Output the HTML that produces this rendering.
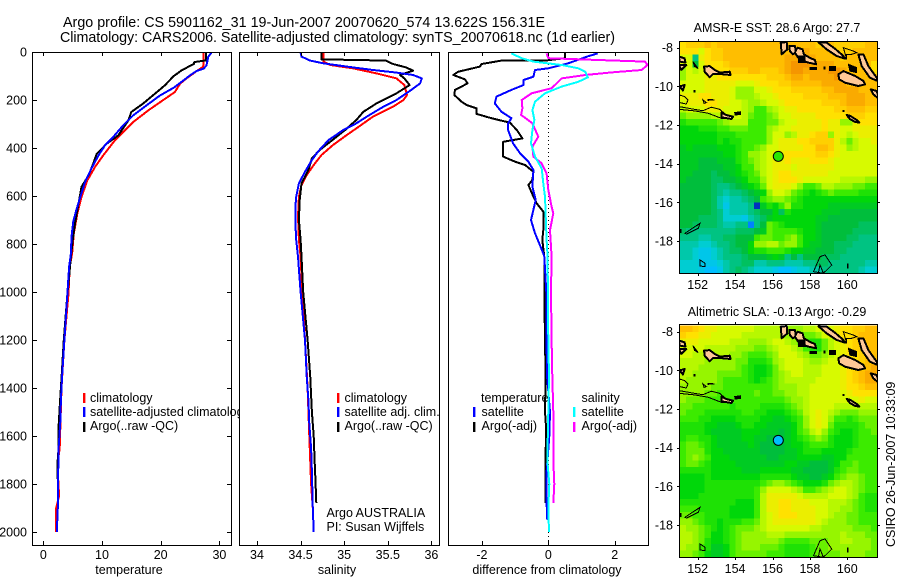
<!DOCTYPE html>
<html>
<head>
<meta charset="utf-8">
<title>Argo profile</title>
<style>
html,body{margin:0;padding:0;background:#fff;width:900px;height:580px;overflow:hidden}
svg{display:block}
text{font-family:"Liberation Sans",Arial,sans-serif;font-size:12.5px;fill:#000}
.title{font-size:14.3px}
</style>
</head>
<body>
<svg id="chart" width="900" height="580" viewBox="0 0 900 580" xmlns="http://www.w3.org/2000/svg">
<defs>
<clipPath id="clip-p1"><rect x="32" y="52" width="207" height="493"/></clipPath>
<clipPath id="clip-p1-lines"><rect x="32" y="52" width="199" height="493"/></clipPath>
<clipPath id="clip-p2"><rect x="239" y="52" width="200" height="493"/></clipPath>
<clipPath id="clip-p3"><rect x="448" y="52" width="200" height="493"/></clipPath>
<clipPath id="clip-m1"><rect x="680" y="42" width="197" height="231"/></clipPath>
<clipPath id="clip-m2"><rect x="680" y="325" width="197" height="232"/></clipPath>
</defs>
<rect x="0" y="0" width="900" height="580" fill="#fff"/>
<text class="title" x="63" y="27" textLength="482">Argo profile: CS 5901162_31 19-Jun-2007 20070620_574 13.622S 156.31E</text>
<text class="title" x="60" y="42" textLength="555">Climatology: CARS2006. Satellite-adjusted climatology: synTS_20070618.nc (1d earlier)</text>
<g id="plots"></g>

<g clip-path="url(#clip-p1)">
<rect x="83" y="393" width="2.4" height="10" fill="#f00"/>
<rect x="83" y="407" width="2.4" height="10" fill="#00f"/>
<rect x="83" y="422" width="2.4" height="10" fill="#000"/>
<text x="90" y="402">climatology</text>
<text x="90" y="416">satellite-adjusted climatology</text>
<text x="90" y="430">Argo(..raw -QC)</text>
</g>
<g>
<rect x="337" y="393" width="2.4" height="10" fill="#f00"/>
<rect x="337" y="407" width="2.4" height="10" fill="#00f"/>
<rect x="337" y="422" width="2.4" height="10" fill="#000"/>
<text x="344.5" y="402">climatology</text>
<text x="344.5" y="416">satellite adj. clim.</text>
<text x="344.5" y="430">Argo(..raw -QC)</text>
<text x="326.5" y="517">Argo AUSTRALIA</text>
<text x="326.5" y="531">PI: Susan Wijffels</text>
</g>
<g>
<text x="481" y="402">temperature</text>
<rect x="473" y="407" width="2.4" height="10" fill="#00f"/>
<rect x="473" y="422" width="2.4" height="10" fill="#000"/>
<text x="481.5" y="416">satellite</text>
<text x="481.5" y="430">Argo(-adj)</text>
<text x="581.5" y="402">salinity</text>
<rect x="573" y="407" width="2.4" height="10" fill="#0ff"/>
<rect x="573" y="422" width="2.4" height="10" fill="#f0f"/>
<text x="581.5" y="416">satellite</text>
<text x="581.5" y="430">Argo(-adj)</text>
</g>
<text x="129" y="574" text-anchor="middle">temperature</text>
<text x="337" y="574" text-anchor="middle">salinity</text>
<text x="547" y="574" text-anchor="middle">difference from climatology</text>
<text x="777" y="32" text-anchor="middle">AMSR-E SST: 28.6 Argo: 27.7</text>
<text x="777" y="316" text-anchor="middle">Altimetric SLA: -0.13 Argo: -0.29</text>
<text transform="translate(895,547) rotate(-90)">CSIRO 26-Jun-2007 10:33:09</text>
</svg>

<script>
// ---------- depth axis ----------
const depthTicks = [0,200,400,600,800,1000,1200,1400,1600,1800,2000];

// ---------- temperature panel ----------
const tempTicks = [0,10,20,30];
const tempClimDepth = [0,50,62,80,110,132,167,201,243,292,368,431,479,535,604,674,757,840,896,1007,1200,1400,1650,1720,1850,1900,2000];
const tempClimValue = [27.3,27.3,27.2,26.1,24.4,23.3,22.4,20.4,17.9,15.3,12.2,10.2,8.8,7.5,6.5,5.8,5.2,4.9,4.5,4.3,3.6,3.1,2.8,2.4,2.7,2.2,2.2];
const tempArgoDepth = [0,35,42,49,76,101,139,174,215,250,285,347,382,424,472,514,562,632,715,785,854,937,1007,1200,1400,1480,1560,1650,1720,1780];
const tempArgoValue = [27.7,27.7,25.7,25.7,23.6,22.2,20.7,19,17,15,14.5,12.8,10.8,9.1,8.4,7.7,6.5,6,5.4,5,4.7,4.4,4.1,3.5,3,2.8,2.6,2.6,2.4,2.4];
const tempSatDepth = [0,21,56,69,79,97,118,149,181,222,264,306,354,389,431,486,542,604,660,708,771,840,896,1007,1200,1350,1450,1540,1650,1800,1880,2000];
const tempSatValue = [28.7,28.1,27.8,27.3,26.1,25,23.9,22.2,19.9,17.6,15.3,13.6,11.9,10.5,9.4,8.2,7.1,6.3,5.6,5.1,4.8,4.7,4.4,4.1,3.6,3.2,3,2.9,2.6,2.5,2.5,2.3];

// ---------- salinity panel ----------
const salTicks = [34,34.5,35,35.5,36];
const salClimDepth = [3,40,54,68,89,110,138,179,200,228,269,308,346,388,429,471,513,554,603,686,783,853,1000,1200,1400,1600,1800,1900,2000];
const salClimValue = [34.76,34.76,34.84,35.10,35.37,35.60,35.69,35.72,35.68,35.56,35.33,35.18,35.03,34.87,34.74,34.65,34.57,34.51,34.48,34.47,34.48,34.50,34.52,34.55,34.58,34.6,34.62,34.64,34.65];
const salArgoDepth = [3,31,33,36,50,64,78,96,110,138,172,214,249,283,325,374,408,443,492,547,617,700,783,853,1000,1200,1350,1500,1600,1700,1780,1880];
const salArgoValue = [34.74,34.74,35.10,35.48,35.56,35.71,35.79,35.64,35.69,35.75,35.60,35.37,35.22,35.14,35.01,34.84,34.72,34.63,34.59,34.51,34.49,34.48,34.50,34.51,34.53,34.58,34.61,34.63,34.65,34.66,34.67,34.68];
const salSatDepth = [3,19,36,47,61,75,86,96,110,131,158,200,228,269,297,325,367,415,450,499,547,603,644,714,783,853,1000,1200,1350,1450,1550,1650,1750,1900,2000];
const salSatValue = [34.50,34.51,34.61,34.76,35.03,35.33,35.60,35.79,35.89,35.87,35.77,35.6,35.45,35.26,35.14,34.99,34.82,34.70,34.63,34.55,34.48,34.45,34.44,34.44,34.45,34.47,34.5,34.55,34.57,34.59,34.6,34.62,34.63,34.64,34.65];

// ---------- difference panel ----------
const diffTicks = [-2,0,2];
const diffTempArgoDepth = [3,26,36,36,50,61,82,96,114,131,158,179,207,221,235,258,272,283,294,325,360,374,436,457,471,499,533,554,603,631,665,742,783,853,1000,1200,1350,1500,1560,1700,1880];
const diffTempArgoValue = [0.50,0.50,-0.10,-1.41,-2.01,-2.06,-2.71,-2.86,-2.51,-2.43,-2.81,-2.83,-2.61,-2.46,-2.16,-2.16,-1.81,-1.51,-1.16,-0.95,-0.78,-1.36,-1.36,-1.0,-0.70,-0.45,-0.48,-0.60,-0.45,-0.35,-0.15,-0.15,-0.18,-0.12,-0.12,-0.1,-0.08,-0.1,-0.07,-0.08,-0.08];
const diffTempSatDepth = [6,17,47,68,75,103,117,138,158,186,214,249,276,297,325,381,422,457,492,561,617,658,700,755,839,853,1000,1200,1350,1500,1600,1750,1850,1950];
const diffTempSatValue = [1.49,1.21,0.60,0,-0.40,-0.45,-0.75,-0.75,-1.11,-1.56,-1.61,-1.41,-1.11,-1.21,-1.21,-1.06,-0.85,-0.60,-0.45,-0.48,-0.38,-0.45,-0.52,-0.40,-0.15,-0.12,-0.06,-0.05,-0.04,0.05,0.03,-0.05,-0.06,-0.03];
const diffSalSatDepth = [6,26,40,54,68,82,106,124,144,172,207,242,283,325,381,436,485,547,603,672,783,853,1200,1350,1500,1700,1800,1900,2000];
const diffSalSatValue = [-1.11,-0.80,-0.45,0.40,0.90,1.11,1.19,0.90,0.40,-0.10,-0.40,-0.48,-0.42,-0.48,-0.52,-0.40,-0.20,-0.15,-0.10,-0.08,-0.05,-0.02,0,0.02,0,-0.03,0.03,0,0.02];
const diffSalArgoDepth = [6,26,33,40,54,75,85,96,110,131,151,172,200,235,262,297,353,394,436,464,506,575,644,672,742,853,1000,1200,1350,1500,1700,1800,1880];
const diffSalArgoValue = [-0.05,0,1.41,2.91,2.99,2.81,1.91,1.11,0.40,0.25,0.10,-0.50,-0.80,-0.78,-0.82,-0.48,-0.30,-0.48,-0.45,-0.20,-0.05,0,0.10,0.15,0.05,0.10,0.08,0.1,0.12,0.15,0.15,0.18,0.15];

// ---------- maps ----------
const lonTicks = [152,154,156,158,160];
const latTicks = [-8,-10,-12,-14,-16,-18];
const argoLon = [156.31];
const argoLat = [-13.62];
const argoSstLevel = [4.7];
const argoSlaLevel = [0];
const sstLevels = [
[8,8.5,8.5,8.5,9,8.5,9,9,9,9,9,9,9,9,9,9,9,9,9,9,9,9,8.5,9,9,8.5,8.5,8.5,8.5,8.5,9,9],
[8,8,8,7,8,8.5,8.5,9,9,9,9,9,9,9,9,9,9,9,9,9,9.5,9,9,9,9,8.5,8.5,8.5,9,9,9,9],
[7,7,2,7.5,8,8.5,8.5,9,9,9,9,9,9,9,9,9,9,9.5,9.5,9.5,9.5,9.5,9,9,9,9,8.5,9,9,9,9,9],
[7,7,3,7,8,8,8,8.5,9,9,9,9,9,9,9,9,9,9.5,10,10,10,9.5,9.5,9.5,9.5,9,9,9,9,9,9,8],
[6,7,6.5,7,7.5,8,8,8,8.5,8.5,8.5,9,9,8.5,8.5,8.5,9,9.5,10,10,9.5,9.5,9.5,9.5,10,10,9.5,9,9,9,8.5,8],
[6,7,7,7,7.5,7.5,8,8,8,8,8,8,8,8,8.5,8.5,8.5,9,9.5,9.5,9,9.5,9.5,9.5,9.5,10,9.5,9,9,9,9,9],
[7,7,7,7,7.5,7.5,7.5,7.5,7.5,7,7,7,7.5,8,8,8,8.5,8.5,9,9,9,9,9,9.5,9.5,9.5,9.5,9,9,9,9,9],
[7,7,7,7,7.5,7.5,7.5,7.5,7,6,6,6,7,7,7.5,8,8,8,8.5,8.5,8.5,8.5,8.5,9,9,9.5,9.5,9.5,9.5,9,9,9],
[7.5,7.5,7.5,8,8,7.5,7.5,7.5,7,6,6,6,6.5,7,7,7.5,8,8,8,8,8.5,8.5,8.5,8.5,9,9,9,9.5,9.5,9.5,9,9],
[7,7.5,7.5,7.5,8,8,7.5,7.5,7,7,6.5,6,6,6.5,7,7,7.5,8,8,8,8,8,8,8.5,8.5,8.5,9,9.5,9.5,9.5,9,9],
[6.5,7,7,7,7.5,7.5,7.5,7,7,7,6.5,6,5,5,6,6.5,7,7.5,7.5,8,8,8,8,8,8,8.5,8.5,9,9,9,8.5,8.5],
[5.5,6,6,6,6,6.5,6.5,7,7,7,6.5,5.5,5,5,5.5,6,7,7,7.5,7.5,7.5,7.5,8,8,8,8,8,8.5,8.5,8.5,8,8],
[4.5,5,5,5,5,5,5.5,6,6.5,6.5,6.5,5,5,5,5.5,5.5,6.5,7,7,7.5,7.5,7.5,7.5,8,7.5,7.5,6,6,7.5,8,8,8],
[4,4,4,4.5,4.5,4.5,5,5,5.5,5.5,5.5,5,5,5,6,6.5,7,7,7.5,7.5,7.5,7.5,7.5,8,7.5,7.5,7,7,7.5,7.5,7.5,7.5],
[4,4,4,4,4,4,4.5,4.5,4.5,5,5,5,5,5,6,7,7,6,6.5,7.5,7.5,8,8.5,8.5,6,7.5,7,6.5,7,7.5,7.5,7.5],
[4,4,4,4,4,4,4.5,4,4.5,4.5,5,5,5,5,6,7,7.5,7.5,7.5,8,8,8.5,8.5,8.5,8.5,7.5,6.5,5.5,6.5,7,7,7.5],
[3.5,4,3.5,3.5,3.5,3.5,4,4,4,4.5,5,5,5.5,6,7,7,7.5,7.5,7.5,7.5,8,8,9,9,8.5,7.5,7,6,6.5,7,7,7],
[3.5,3.5,3.5,3.5,3.5,3.5,3.5,4,4,4.5,5,6,6,6.5,7,7.5,7.5,8,8,8,8,8,8.5,8.5,8,7.5,7,7,7,7,7,7],
[3.5,3.5,3.5,3,3,3,3.5,3.5,3.5,4.5,5,5.5,6,6.5,7,7.5,7.5,8,7.5,7.5,7.5,8,8,8,7.5,7,7,7,7,7,7,7],
[3.5,3.5,3.5,3,3,3,3,3.5,3.5,4,5,5,6,6.5,7,7.5,7.5,7.5,7,7.5,7.5,7.5,7.5,7.5,7.5,7,7,7,7,7,7,7],
[3.5,3.5,3,3,3,2.5,3,3,3.5,4,4.5,5,5.5,6.5,7,7.5,8,8,7.5,7.5,7.5,7.5,7.5,7.5,7,7,7,7,7,7,7,7],
[3.5,3,3,3,3,2.5,2.5,3,3,3.5,4,5,5,6,7,7.5,8,8,8,7.5,7,7,7,7,7,7,6.5,6.5,6.5,6.5,6,6],
[3,3,3,3,3,2.5,2,2,2.5,3,3.5,4,4.5,5.5,7,7.5,7.5,7.5,7,6,5,5,5.5,6.5,6.5,6,6,6,5.5,5.5,5,5],
[3,3,3,3,3,2.5,2,1.5,2,2,2.5,3,3.5,4,6,7,7,6.5,5.5,5,4.5,4,4.5,5,5.5,5,5,5,5,4.5,4.5,4.5],
[3,3,3,3,3,2.5,1.5,1,1.5,1.5,2,2.5,3,5,5.5,6,6,5.5,5,4.5,4,4,4,4,4,4,4,4,4,4,4,4],
[3,3,3,3,3,2.5,1.5,0.5,1.5,1.5,1.5,2,-2,3.5,4.5,4,5,6,4.5,4.5,4,4,4,4,3.5,3.5,3.5,3.5,3.5,3.5,3.5,3.5],
[3,3,3,3,3,2.5,2,1,1.5,1.5,1.5,2,2.5,3,3,4,2.5,4.5,4,4,4,4,4,3.5,3.5,3.5,3,3,3,3,3,3],
[3,3,3,2.5,2.5,2.5,2,1,1,1,0.5,1.5,2,2.5,3.5,4,4,4,4,4,4,4,3.5,3.5,3,3,3,3,3,3,3,3],
[3,3,2.5,2.5,2.5,2.5,2,1.5,1.5,2,2,-1,2,3,5.5,5,4.5,4,4,4,4,4,3.5,3,3,3,3,3,3,2.5,2.5,2.5],
[2.5,2,2,2,2,2,2,2,2,2.5,2.5,2.5,3,3.5,5.5,5,5,5,5,4.5,4,4,3.5,3,3,3,3,3,2.5,2.5,2.5,2.5],
[2,2,2,1.5,1.5,2,2,2.5,2.5,3,3,3,5,5.5,5.5,5,5,5.5,6,5,4,4,3.5,3,3,3,3,2.5,2.5,2,2,2],
[1.5,1.5,1.5,1,1,1.5,2,2,2.5,3,3,4,6,6,6.5,6.5,5.5,6,6,5,4,3.5,3.5,3,3,2.5,2.5,2.5,2,2,2,2],
[1.5,1.5,1,0.5,0.5,1,1.5,2,2.5,2.5,3,4,4.5,4.5,5,5,5,4.5,4,4,3.5,3.5,3,3,3,2.5,2.5,2,2,2,2,2],
[1.5,1.5,1,0.5,0.5,1,1.5,2,2,2,2.5,3,3,3,3.5,4,3.5,2,3,2,3,3,3,2.5,2.5,2.5,2,2,2,2,2,2],
[1,1,1,0.5,0.5,0.5,1,1.5,2,2,2.5,2.5,1.5,1.5,2,2,2,1.5,1.5,1.5,2,2,2.5,2.5,2,2,2,2,2,2,1.5,1.5],
[1,1,1,0.5,0,0,0.5,1.5,2,2.5,2,1.5,1,1,1,0.5,0,0,0.5,1,1,1.5,1.5,2,2,2,2,2,2,1.5,1,1]
];
const slaLevels = [
[9,9,8.5,8,7.5,7.5,7,7,7,7,7,7,6.5,6.5,6.5,6.5,6.5,6,6,6,6.5,6.5,7,7,7,7.5,8,8,8.5,8.5,9,9],
[8.5,8,8,7.5,7.5,7,7,7,7,7,6.5,6.5,6.5,6.5,6.5,6.5,6.5,6,5.5,5.5,5.5,5.5,6,7,7,7.5,8,8,8.5,9,9,9],
[7.5,7.5,7.5,7,7,7,7,7,6.5,6.5,6.5,6,6,6,6.5,7,7,6.5,6,5.5,5,4.5,4.5,5.5,6.5,7,7.5,8,8.5,9,9,9],
[7,7,7,7,6.5,6.5,6.5,6.5,6.5,6,6,6,5.5,5.5,6,6.5,7,7,6.5,6,5,4.5,4.5,5.5,6.5,7,7.5,8,8.5,8.5,9,9],
[7,7,6.5,6.5,6.5,6.5,6.5,6.5,6,6,5.5,5,5,5,5.5,6,7,7,7,6.5,6,5.5,5.5,6,6.5,7,7.5,8,8,8.5,9,9],
[6.5,6.5,6.5,6.5,6,6,6,6,6,5.5,5.5,4.5,4.5,4.5,5,6,6.5,7,7,7,6.5,6,6,6.5,7,7,7.5,7.5,8,8.5,9,9],
[6.5,6.5,6.5,6,6,6,6,6,6,5.5,5,4.5,4,4,4.5,5.5,6.5,7,7,7,6.5,6.5,6.5,7,7,7,7.5,8,8,8.5,9,9.5],
[6.5,6.5,6,6,6,6,5.5,5.5,5.5,5.5,5,4.5,4,4,4.5,5.5,6,6.5,7,7,6.5,6.5,6.5,7,7,7,7.5,8,8.5,9,9.5,9.5],
[6.5,6,6,6,6,6,5.5,5,5,5,5,4.5,4,4.5,5,5.5,6,6.5,6.5,6.5,6.5,6.5,7,7,7,7,7.5,8,8.5,9,9.5,9.5],
[6,6,6,6,6,5.5,5.5,5,5,5,5,5,5,5,5,5.5,6,6,6,6.5,6.5,7,7,7,7,7,7.5,8,8,8.5,9,9],
[6,6,6,6,5.5,5.5,5,5,5,5,5,5,5.5,5,5,5.5,5.5,6,6,6.5,6.5,7,7,7,7,7,7,7.5,8,8,8,8],
[6,5.5,5.5,5.5,5,5,5,5,5,5,5,5,5,5,5,5,5,5.5,6,6,6.5,7,7,7,7,7,7,7,7,7.5,7,7],
[5.5,5.5,5,5,5,5,5,5,4.5,5,5,5,5,4.5,4.5,4.5,4.5,5,5.5,6,6.5,7,7,7,7,6.5,6.5,6.5,6.5,6.5,6.5,6.5],
[5.5,5,5,5,4.5,4.5,4.5,4.5,4.5,4.5,5,5,4.5,4.5,4,4,4,4.5,5,5.5,6.5,7,7.5,7,6.5,6,5.5,5.5,5.5,6,6,6],
[5,5,5,4.5,4.5,4,4,4,4,4.5,4.5,4.5,4.5,4,4,3.5,3.5,4,4.5,5,6,7,7.5,7,6,5,5,4.5,5,5.5,5.5,5.5],
[4.5,4.5,4.5,4.5,4,4,3.5,3.5,3.5,4,4.5,4.5,4,4,3.5,3.5,3.5,3.5,4,5,6,7,7.5,7,5.5,4.5,4.5,4.5,4.5,5,5.5,5.5],
[4.5,4.5,4.5,4.5,4,3.5,3.5,3.5,3.5,3.5,4,4,4,3.5,3.5,3.5,3,3.5,4,5,5.5,6.5,7,6,5,4.5,4,4,4.5,5,5,5.5],
[4.5,5,5,4.5,4.5,4,3.5,3.5,3.5,3.5,4,4,3.5,3.5,3,3,3,3.5,4,4.5,5,5.5,6,5.5,4.5,4,4,4,4.5,5,5,5],
[5,5.5,5.5,5,4.5,4,3.5,3.5,3.5,3.5,3.5,4,3.5,3,3,3,3,3.5,4,4,4.5,5,5,5,4.5,4,4,4,4.5,5,5,5],
[5,5.5,5.5,5.5,4.5,4,4,3.5,3.5,3.5,3.5,3.5,3.5,3,3,3,3,3.5,3.5,4,4.5,4.5,4.5,4,4,4,4,4.5,5,5,5,5],
[5,5.5,6,5.5,5,4,4,4,3.5,3.5,3.5,3.5,3.5,3.5,3,3,3.5,3.5,3.5,4,4,4,4,3.5,3.5,4,4,5,5,5,5,5],
[5,5.5,5.5,5,4.5,4,4,4,4,3.5,3.5,3.5,3.5,3.5,3.5,3.5,3.5,4,4,3.5,3.5,3,3,3,3.5,4,5,5,5.5,5,5,5],
[4.5,4.5,4.5,4.5,4.5,4,4,4,4,4,3.5,3.5,3.5,4,4,4,4,4,3.5,3.5,3,3,3,3,3.5,4.5,5,5.5,5.5,5,5,5],
[4,4,4,4,4.5,4,4,4,4,4,4,4,4,4.5,4.5,4.5,4.5,4.5,4,3.5,3.5,3,3,3.5,4,5,5.5,6,6,5.5,5,5],
[4,4,4,4,4.5,4.5,4.5,4.5,4.5,4.5,4.5,4.5,4.5,5,5.5,6,6,5.5,5,4.5,4,4,4,4.5,5.5,6,6.5,6.5,6,5.5,5,5],
[4,4,4,4,4.5,4.5,4.5,4.5,4.5,4.5,4.5,4.5,5,6,7,7,7,7,6.5,6,5,5,5.5,6,6.5,7,7,6.5,6,5.5,5,5],
[4,4,4,4.5,4.5,4.5,4.5,4.5,4.5,4.5,4.5,4.5,5,6.5,7.5,7.5,7.5,7.5,7.5,7,6.5,6.5,6.5,6.5,7,7,7,6.5,6,5,4.5,4.5],
[4.5,4.5,4.5,4.5,4.5,4.5,4.5,4.5,4.5,4,4,4,5,6.5,7.5,7.5,8,8,7.5,7.5,7.5,7,7,7,6.5,6.5,6.5,6,5.5,5,4.5,4.5],
[5,5,5,4.5,4.5,4.5,4.5,4.5,4,4,4,4,5,6.5,7.5,7.5,8,8,7.5,7.5,7.5,7.5,7,7,6.5,6.5,6,6,5.5,5,4.5,4.5],
[5.5,5.5,5,5,4.5,4.5,4.5,4.5,4,4,4,4,5,6.5,7,7.5,8,8,8,7.5,7.5,7.5,7,7,6.5,6,6,5.5,5.5,5,5,5],
[6,6,5.5,5,4.5,4.5,4,4.5,4.5,4.5,5,5,5.5,6.5,7,7.5,7.5,7.5,7.5,7.5,7.5,7.5,7,6.5,6,6,6,5.5,5.5,5,5,5],
[6.5,6,6,5.5,5,4.5,4,4.5,5,5.5,5.5,5.5,6,6.5,7,7,7,7,7,7,7,6.5,6.5,6,6,6,6,6,5.5,5.5,5.5,5],
[6.5,6.5,6,5.5,5,4,4,4.5,5,5.5,6,6,6,6,6.5,6.5,6.5,6,6,6,6,6,6,6,6,6,6.5,6,6,6,5.5,5.5],
[6.5,6.5,6,5.5,4.5,4,4,4.5,5,5.5,6,6,6,6,6,6,5.5,5,5,5,5,5.5,5.5,5.5,6,6,6.5,6.5,6,6,6,5.5],
[6.5,6,6,5,4.5,3.5,3.5,4,5,5.5,6,6,6,5.5,5.5,5.5,5,4.5,4.5,4.5,4.5,5,5.5,5.5,6,6,6,6,6,6,6,5.5],
[6,6,5.5,5,4,3.5,3.5,4,5,5.5,5.5,5.5,5.5,5.5,5,5,5,4.5,4.5,4.5,4.5,5,5.5,5.5,5.5,5.5,6,6,6,6,5.5,5.5]
];
// coastlines in [lon, lat]
const landPolys = [
[[156.90,-7.91],[157.20,-7.91],[157.26,-8.26],[157.08,-8.34],[156.93,-8.17]],
[[157.33,-8.0],[157.61,-8.09],[157.68,-8.34],[158.0,-8.52],[158.27,-8.64],[158.33,-8.86],[157.92,-8.77],[157.65,-8.69],[157.38,-8.52],[157.2,-8.26]],
[[158.45,-7.71],[158.9,-7.74],[159.34,-8.05],[159.79,-8.43],[159.88,-8.57],[159.43,-8.43],[158.9,-8.09]],
[[156.44,-7.74],[156.76,-7.71],[156.79,-8.09],[156.49,-8.34]],
[[160.59,-8.34],[160.86,-8.34],[161.13,-8.95],[161.57,-9.55],[161.61,-9.72],[161.21,-9.55],[160.77,-8.95]],
[[159.52,-9.38],[159.79,-9.21],[160.41,-9.46],[160.86,-9.72],[160.95,-9.90],[160.59,-9.98],[159.88,-9.81],[159.57,-9.64]],
[[161.25,-10.15],[161.57,-10.24],[161.71,-10.67],[161.39,-10.41]],
[[153.26,-11.36],[153.53,-11.48],[153.89,-11.57],[153.8,-11.69],[153.26,-11.6]],
[[152.34,-8.98],[152.64,-8.95],[152.91,-9.15],[153.18,-9.29],[153.71,-9.24],[153.76,-9.41],[153.18,-9.36],[152.82,-9.36],[152.64,-9.53],[152.37,-9.24]],
[[151,-8.46],[151.3,-8.55],[151.34,-8.77],[151.04,-8.72]],
[[151,-8.9],[151.39,-8.9],[151.12,-9.15]],
[[151.04,-10.0],[151.3,-9.93],[151.21,-10.22]],
[[159.97,-11.48],[160.14,-11.52],[160.5,-11.74],[160.64,-11.88],[160.41,-11.84],[160.14,-11.69]]
];
const reefPolys = [
[[151.04,-11.05],[151.84,-11.19],[152.28,-11.26],[152.73,-11.08],[153.18,-11.19],[153.53,-11.48],[153.89,-11.57],[153.8,-11.69],[153.26,-11.65],[152.55,-11.39],[151.84,-11.27],[151.04,-11.19]],
[[151.04,-10.45],[151.3,-10.53],[151.48,-10.7],[151.39,-10.91],[151.04,-10.84]],
[[152.28,-10.7],[152.46,-10.84],[152.34,-10.88]],
[[159.79,-8.0],[160.32,-8.17],[160.5,-8.26],[160.23,-8.34],[159.97,-8.34],[159.97,-8.6]],
[[151.32,-17.6],[152.12,-17.09],[152.04,-17.34],[151.41,-17.64]],
[[152.12,-18.98],[152.39,-19.15],[152.39,-19.33],[152.12,-19.29]],
[[158.19,-19.59],[158.54,-18.81],[158.81,-18.72],[159.17,-19.24],[158.72,-19.67]],
[[158.54,-19.24],[158.72,-19.67],[158.45,-19.67]]
];
const blobPolys = [
[[159.04,-8.98],[159.38,-8.98],[159.38,-9.19],[159.04,-9.19]],
[[160.06,-8.86],[160.5,-9.03],[160.5,-9.29],[160.14,-9.21]],
[[158.0,-9.02],[158.36,-9.02],[158.36,-9.12],[158,-9.12]],
[[158.75,-9.0],[158.81,-9.0],[158.81,-9.1],[158.75,-9.1]],
[[157.38,-8.43],[157.74,-8.43],[157.74,-8.77],[157.38,-8.77]],
[[151.75,-8.72],[152.02,-9.07],[151.84,-8.98]],
[[153.98,-11.36],[154.3,-11.31],[154.3,-11.45],[154.0,-11.48]],
[[151.8,-10.22],[151.85,-10.22],[151.85,-10.28],[151.8,-10.28]],
[[152.55,-10.67],[152.91,-10.7],[152.55,-10.72]],
[[159.77,-11.25],[159.83,-11.25],[159.83,-11.3],[159.77,-11.3]],
[[160.0,-19.2],[160.05,-19.2],[160.05,-19.4],[160.0,-19.4]],
[[151.05,-17.4],[151.1,-17.4],[151.1,-17.55],[151.05,-17.55]]
];
const colorStops = [[-2,0,50,190],[-1,0,130,255],[0,0,190,255],[1,0,205,210],[2,0,195,130],[3,0,190,60],[4,0,215,10],[5,60,235,0],[6,150,245,0],[7,215,250,0],[8,255,225,0],[9,255,190,0],[10,245,150,0]];

const NS = 'http://www.w3.org/2000/svg';
const root = document.getElementById('plots');
function mk(tag, attrs, parent){
  const el = document.createElementNS(NS, tag);
  for (const k in attrs) el.setAttribute(k, attrs[k]);
  (parent || root).appendChild(el);
  return el;
}
const yDepth = d => 52 + 0.24 * d;
const xTemp = v => 43.3 + 5.87 * v;
const xSal = v => 257 + 87.2 * (v - 34);
const xDiff = v => 548.3 + 33.2 * v;

function levelColor(v){
  for (let i = 0; i < colorStops.length - 1; i++){
    const a = colorStops[i], b = colorStops[i + 1];
    if (v <= b[0]){
      const t = Math.max(0, (v - a[0]) / (b[0] - a[0]));
      return 'rgb(' + [1,2,3].map(k => Math.round(a[k] + (b[k] - a[k]) * t)).join(',') + ')';
    }
  }
  const l = colorStops[colorStops.length - 1];
  return 'rgb(' + l[1] + ',' + l[2] + ',' + l[3] + ')';
}

function drawLine(depths, values, xFn, color, clip, name){
  const pts = depths.map((d, i) => xFn(values[i]).toFixed(1) + ',' + yDepth(d).toFixed(1)).join(' ');
  const el = mk('polyline', {points: pts, fill: 'none', stroke: color, 'stroke-width': 2, 'stroke-linejoin': 'round', 'clip-path': 'url(#' + clip + ')', 'shape-rendering': 'crispEdges'});
  
  
}

function drawPanel(x0, x1, ticks, xFn, labels, yTicks, name){
  const frame = mk('rect', {x: x0 + 0.5, y: 52.5, width: x1 - x0, height: 493, fill: 'none', stroke: '#000', 'stroke-width': 1, 'shape-rendering': 'crispEdges'});
  
  
  ticks.forEach(t => {
    const x = Math.round(xFn(t)) + 0.5;
    const top = mk('line', {x1: x, x2: x, y1: 52, y2: 56, stroke: '#000', 'shape-rendering': 'crispEdges'});
    
    
    const bot = mk('line', {x1: x, x2: x, y1: 541, y2: 545, stroke: '#000', 'shape-rendering': 'crispEdges'});
    
    
    const lab = mk('text', {x: xFn(t), y: 559, 'text-anchor': 'middle'});
    lab.textContent = t;
    
    
  });
  if (yTicks){
    depthTicks.forEach(d => {
      const y = Math.round(yDepth(d)) + 0.5;
      const a = mk('line', {x1: x0, x2: x0 + 5, y1: y, y2: y, stroke: '#000', 'shape-rendering': 'crispEdges'});
      
      
      const b = mk('line', {x1: x1 - 4, x2: x1, y1: y, y2: y, stroke: '#000', 'shape-rendering': 'crispEdges'});
      
      
      const lab = mk('text', {x: 27, y: yDepth(d) + 4.5, 'text-anchor': 'end'});
      lab.textContent = d;
      
      
    });
  }
}

// Profile lines
drawLine(tempClimDepth, tempClimValue, xTemp, '#f00', 'clip-p1-lines', 'temperature-climatology-line');
drawLine(tempArgoDepth, tempArgoValue, xTemp, '#000', 'clip-p1-lines', 'temperature-argo-line');
drawLine(tempSatDepth, tempSatValue, xTemp, '#00f', 'clip-p1-lines', 'temperature-satellite-line');
drawLine(salClimDepth, salClimValue, xSal, '#f00', 'clip-p2', 'salinity-climatology-line');
drawLine(salArgoDepth, salArgoValue, xSal, '#000', 'clip-p2', 'salinity-argo-line');
drawLine(salSatDepth, salSatValue, xSal, '#00f', 'clip-p2', 'salinity-satellite-line');

const zeroLine = mk('line', {x1: xDiff(0), x2: xDiff(0), y1: 52, y2: 545, stroke: '#000', 'stroke-width': 1, 'stroke-dasharray': '1 3', 'shape-rendering': 'crispEdges'});


drawLine(diffTempArgoDepth, diffTempArgoValue, xDiff, '#000', 'clip-p3', 'difference-temp-argo-line');
drawLine(diffTempSatDepth, diffTempSatValue, xDiff, '#00f', 'clip-p3', 'difference-temp-satellite-line');
drawLine(diffSalArgoDepth, diffSalArgoValue, xDiff, '#f0f', 'clip-p3', 'difference-sal-argo-line');
drawLine(diffSalSatDepth, diffSalSatValue, xDiff, '#0ff', 'clip-p3', 'difference-sal-satellite-line');

// Panels
drawPanel(32, 231, tempTicks, xTemp, true, true, 'temperature-panel');
drawPanel(239, 439, salTicks, xSal, true, false, 'salinity-panel');
drawPanel(448, 648, diffTicks, xDiff, true, false, 'difference-panel');

// Maps
const lonMin = 151.05, lonMax = 161.6, latTop = -7.69, latBottom = -19.66;
const xLon = lon => 697.7 + 18.7 * (lon - 152);

function polyPts(poly, yLat){
  return poly.map(p => xLon(p[0]).toFixed(1) + ',' + yLat(p[1]).toFixed(1)).join(' ');
}

function drawMap(levels, top, bottom, lat8y, clip, name, argoLevel){
  const yLat = lat => lat8y + 19.33 * (-8 - lat);
  const g = mk('g', {'clip-path': 'url(#' + clip + ')'});
  
  
  const nr = levels.length, nc = levels[0].length;
  const dLon = (lonMax - lonMin) / nc, dLat = (latTop - latBottom) / nr;
  levels.forEach((row, r) => {
    row.forEach((v, c) => {
      const x = xLon(lonMin + c * dLon), y = yLat(latTop - r * dLat);
      const cell = mk('rect', {x: x.toFixed(2), y: y.toFixed(2), width: (dLon * 18.7 + 0.6).toFixed(2), height: (dLat * 19.33 + 0.6).toFixed(2), fill: levelColor(v), 'shape-rendering': 'crispEdges'}, g);
      
      
    });
  });
  landPolys.forEach(poly => {
    const el = mk('polygon', {points: polyPts(poly, yLat), fill: '#ffc896', stroke: '#000', 'stroke-width': 2, 'stroke-linejoin': 'round', 'shape-rendering': 'crispEdges'}, g);
    
    
  });
  reefPolys.forEach(poly => {
    const el = mk('polygon', {points: polyPts(poly, yLat), fill: 'none', stroke: '#000', 'stroke-width': 1, 'shape-rendering': 'crispEdges'}, g);
    
    
  });
  blobPolys.forEach(poly => {
    const el = mk('polygon', {points: polyPts(poly, yLat), fill: '#000', stroke: '#000', 'stroke-width': 1, 'shape-rendering': 'crispEdges'}, g);
    
    
  });
  const dot = mk('circle', {cx: xLon(argoLon[0]), cy: yLat(argoLat[0]), r: 5, fill: levelColor(argoLevel[0]), stroke: '#000', 'stroke-width': 1});
  
  
  const frame = mk('rect', {x: 679.5, y: top - 0.5, width: 198, height: bottom - top + 1, fill: 'none', stroke: '#000', 'stroke-width': 1, 'shape-rendering': 'crispEdges'});
  
  
  lonTicks.forEach(t => {
    const x = Math.round(xLon(t)) + 0.5;
    const a = mk('line', {x1: x, x2: x, y1: top - 3, y2: top, stroke: '#000', 'shape-rendering': 'crispEdges'});
    
    
    const b = mk('line', {x1: x, x2: x, y1: bottom, y2: bottom + 3, stroke: '#000', 'shape-rendering': 'crispEdges'});
    
    
    const lab = mk('text', {x: xLon(t), y: bottom + 16, 'text-anchor': 'middle'});
    lab.textContent = t;
    
    
  });
  latTicks.forEach(t => {
    const y = Math.round(yLat(t)) + 0.5;
    const a = mk('line', {x1: 677, x2: 680, y1: y, y2: y, stroke: '#000', 'shape-rendering': 'crispEdges'});
    
    
    const b = mk('line', {x1: 877, x2: 880, y1: y, y2: y, stroke: '#000', 'shape-rendering': 'crispEdges'});
    
    
    const lab = mk('text', {x: 673, y: yLat(t) + 4.5, 'text-anchor': 'end'});
    lab.textContent = t;
    
    
  });
}
drawMap(sstLevels, 42, 273, 47.7, 'clip-m1', 'sst-map', argoSstLevel);
drawMap(slaLevels, 325, 557, 331.7, 'clip-m2', 'sla-map', argoSlaLevel);
</script>
</body>
</html>
